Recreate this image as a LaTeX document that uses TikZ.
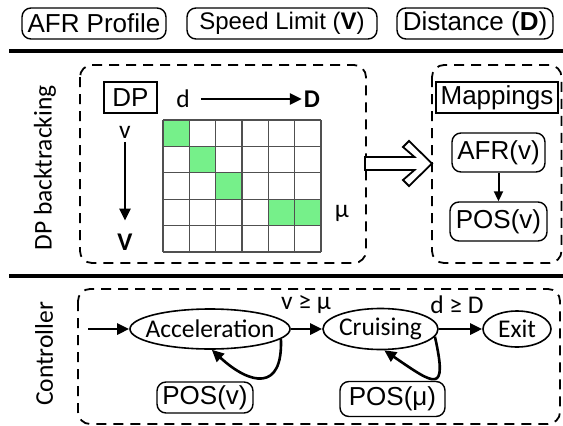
\documentclass[tikz,border=0pt]{standalone}
\usepackage{fontspec}
\setmainfont{Liberation Sans}
\newfontfamily\calfont{Carlito}
\usetikzlibrary{arrows.meta,shapes.geometric}
\definecolor{cellgreen}{RGB}{118,240,138}
\definecolor{gridgray}{RGB}{80,80,80}
\tikzset{
  arr/.style={line width=2.6pt, -{Triangle[length=12pt,width=11pt]}},
  smallarr/.style={line width=2pt, -{Triangle[length=10pt,width=9pt]}},
  topbox/.style={draw, rounded corners=9pt, line width=1.4pt, minimum height=31pt, inner xsep=4pt, inner ysep=0pt, font=\fontsize{26}{30}\selectfont},
  dashbox/.style={draw, line width=1.8pt, dash pattern=on 10pt off 7pt, rounded corners=12pt},
  sqbox/.style={draw, line width=1.8pt, minimum height=31pt, font=\fontsize{26}{30}\selectfont, inner sep=0pt},
  rbox/.style={draw, rounded corners=9pt, line width=1.4pt, font=\fontsize{26}{30}\selectfont, inner sep=0pt},
  stnode/.style={draw, ellipse, line width=1.6pt, inner sep=0pt},
  caltext/.style={font=\calfont\fontsize{25.5}{30}\selectfont, inner sep=2pt},
  calbold/.style={font=\calfont\bfseries\fontsize{25.5}{30}\selectfont, inner sep=2pt},
  sepline/.style={line width=4pt},
  gridline/.style={draw=gridgray, line width=1.3pt},
}
\begin{document}
\begin{tikzpicture}[x=1pt,y=-1pt]
\useasboundingbox (0,0) rectangle (563,426);

% top row
\node[topbox, minimum width=144pt] (afr) at (94,23.5) {AFR Profile};
\node[topbox, minimum width=190pt] (spd) at (282,23.5) {\fontsize{24}{28}\selectfont Speed Limit (\textbf{V})};
\node[topbox, minimum width=156pt] (dist) at (475,23.5) {Distance (\textbf{D})};

\draw[sepline] (9,51) -- (563,51);
\draw[sepline] (9,276) -- (563,276);

% DP panel
\draw[dashbox] (80,65) rectangle (366,263);
\node[caltext, rotate=90] (dpb) at (45,168) {DP backtracking};
\node[sqbox, minimum width=53pt] (dp) at (130.5,97.5) {DP};
\node[caltext] (dl) at (183,99) {d};
\node[calbold] (Dl) at (312,99) {D};
\draw[arr, shorten <=9pt] (dl) -- (Dl);
\node[caltext] (vl) at (125,132.5) {v};
\node[calbold] (Vl) at (125,242) {V};
\draw[arr, shorten <=1pt, shorten >=11pt] (vl) -- (Vl);

\foreach \r/\c in {0/0,1/1,2/2,3/4,3/5}
  \fill[cellgreen] (163+\c*26.333,120+\r*26.4) rectangle ++(26.333,26.4);
\foreach \i in {0,...,6}
  \draw[gridline] (163+\i*26.333,120) -- (163+\i*26.333,252);
\foreach \j in {0,...,5}
  \draw[gridline] (163,120+\j*26.4) -- (321,120+\j*26.4);
\node[caltext] (mu) at (342,213) {μ};

% mappings panel
\draw[dashbox] (432,65) rectangle (561.5,263);
\draw[line width=1.8pt, fill=white, line join=miter]
  (365,157) -- (414.5,157) -- (403,147) -- (409,141) -- (432,163.5)
  -- (409,186) -- (403,180) -- (414.5,170) -- (365,170) -- cycle;
\node[sqbox, minimum width=122pt] (map) at (497,97.5) {Mappings};
\node[rbox, minimum width=93pt, minimum height=39pt] (afrv) at (498.5,152.5) {AFR(v)};
\node[rbox, minimum width=97pt, minimum height=39pt] (posv) at (498.5,221.5) {POS(v)};
\draw[smallarr] (afrv) -- (posv);

% controller
\draw[dashbox] (78,289) rectangle (560,424);
\node[caltext, rotate=90] (ctl) at (44,354) {Controller};
\coordinate (start) at (88,329);
\node[stnode, minimum width=160pt, minimum height=40pt, label={[caltext]center:Acceleration}] (acc) at (210,329) {};
\node[stnode, minimum width=115pt, minimum height=41pt, label={[caltext]center:Cruising}] (cru) at (380.5,329) {};
\node[stnode, minimum width=68pt, minimum height=36pt, label={[caltext]center:Exit}] (ex) at (517,329) {};
\draw[arr] (start) -- (acc);
\draw[arr] (acc) -- (cru);
\draw[arr] (cru) -- (ex);
\node[caltext] (l1) at (306,305) {v ≥ μ};
\node[caltext] (l2) at (457,305) {d ≥ D};
\draw[arr] (acc.-8) .. controls (283,392) and (250,385) .. (acc.-85);
\draw[arr] (cru.-8) .. controls (448,395) and (435,385) .. (cru.-80);
\node[rbox, minimum width=96pt, minimum height=31pt] (posv2) at (205,397.5) {POS(v)};
\node[rbox, minimum width=105pt, minimum height=35pt] (posmu) at (392.5,399) {POS(μ)};
\end{tikzpicture}
\end{document}
